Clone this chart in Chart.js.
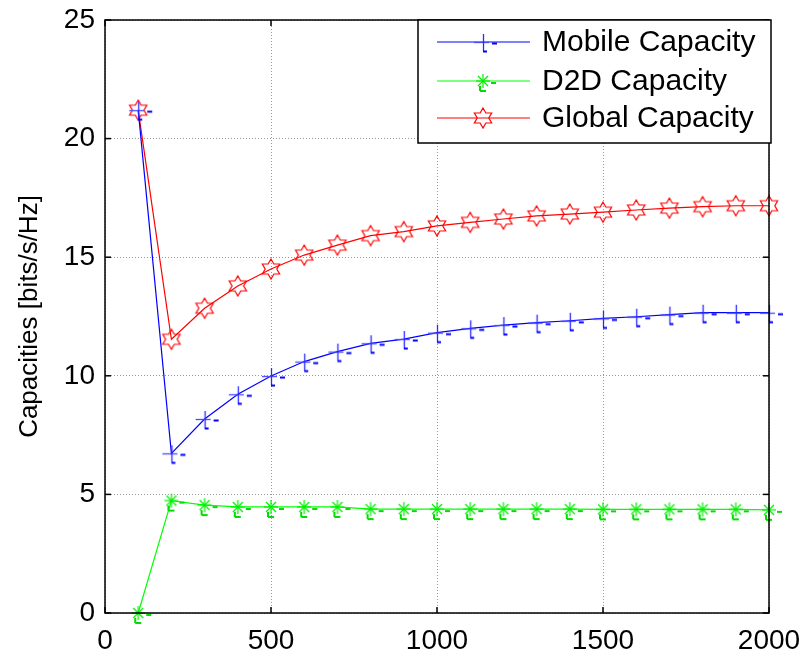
<!DOCTYPE html>
<html>
<head>
<meta charset="utf-8">
<script src="https://cdn.jsdelivr.net/npm/chart.js@4"></script>
<style>
html,body{margin:0;padding:0;background:#fff;}
#wrap{width:805px;height:655px;}
</style>
</head>
<body>
<div id="wrap"><canvas id="c" width="805" height="655"></canvas></div>
<script>
// ---- data ----
const xValues = [100,200,300,400,500,600,700,800,900,1000,1100,1200,1300,1400,1500,1600,1700,1800,1900,2000];
const mobileCapacity = [21.2,6.73,8.18,9.22,9.99,10.6,11.02,11.37,11.55,11.82,12.0,12.14,12.24,12.32,12.42,12.49,12.58,12.66,12.66,12.66];
const d2dCapacity = [0.0,4.74,4.55,4.47,4.47,4.47,4.47,4.38,4.38,4.38,4.38,4.38,4.38,4.38,4.37,4.37,4.37,4.37,4.37,4.35];
const globalCapacity = [21.2,11.54,12.85,13.79,14.5,15.09,15.51,15.91,16.08,16.32,16.47,16.61,16.74,16.82,16.9,16.99,17.07,17.13,17.17,17.17];
const seriesLabels = ['Mobile Capacity','D2D Capacity','Global Capacity'];
const xTicks = [0,500,1000,1500,2000];
const yTicks = [0,5,10,15,20,25];
const yTitle = 'Capacities [bits/s/Hz]';

const FONT = "'Liberation Sans', Arial, sans-serif";

// ---- marker images ----
function mk(drawFn){
  const c = document.createElement('canvas');
  c.width = 34; c.height = 34;
  const g = c.getContext('2d');
  g.translate(17,17);
  drawFn(g);
  return c;
}
function seg(g,x1,y1,x2,y2){ g.beginPath(); g.moveTo(x1,y1); g.lineTo(x2,y2); g.stroke(); }
const plusMarker = mk(g=>{
  g.lineWidth = 1.3;
  g.strokeStyle = '#4a4aff';
  seg(g,-9,0.5,6,0.5);
  g.strokeStyle = '#2a2aff';
  seg(g,0.5,-8,0.5,9);
  g.strokeStyle = '#0000ff';
  g.lineWidth = 2;
  seg(g,0,9.5,4,9.5);
  seg(g,9,1.5,14,1.5);
});
const starMarker = mk(g=>{
  g.strokeStyle = '#00ee00';
  g.lineWidth = 1.2;
  const r = 7;
  seg(g,-r,0,r,0);
  seg(g,0,-r,0,r);
  seg(g,-5,-5,5,5);
  seg(g,-5,5,5,-5);
  g.lineWidth = 2;
  g.strokeStyle = '#00dd00';
  seg(g,8,2,13,2);
  seg(g,-3,5,-3,10);
  seg(g,-3,10,3,10);
});
const hexMarker = mk(g=>{
  g.strokeStyle = '#ff0000';
  g.lineWidth = 1.2;
  const R = 10, r = R/Math.sqrt(3);
  g.beginPath();
  for(let i=0;i<12;i++){
    const ang = -Math.PI/2 + i*Math.PI/6;
    const rad = (i%2===0)?R:r;
    const px = rad*Math.cos(ang), py = rad*Math.sin(ang);
    if(i===0) g.moveTo(px,py); else g.lineTo(px,py);
  }
  g.closePath();
  g.stroke();
});

function toPts(ys){ return xValues.map((x,i)=>({x:x,y:ys[i]})); }

const datasets = [
  {label:seriesLabels[0], data:toPts(mobileCapacity), borderColor:'#0000ff', backgroundColor:'#0000ff', pointStyle:plusMarker},
  {label:seriesLabels[1], data:toPts(d2dCapacity), borderColor:'#00ff00', backgroundColor:'#00ff00', pointStyle:starMarker},
  {label:seriesLabels[2], data:toPts(globalCapacity), borderColor:'#ff0000', backgroundColor:'#ff0000', pointStyle:hexMarker}
].map(d=>Object.assign(d,{borderWidth:1.2, tension:0, fill:false, pointRadius:10, pointHoverRadius:10, clip:false}));

// ---- plugins ----
const framePlugin = {
  id:'frame',
  afterDatasetsDraw(chart){
    const {ctx, chartArea:a, scales} = chart;
    ctx.save();
    ctx.strokeStyle = '#000';
    ctx.lineWidth = 1.5;
    ctx.strokeRect(a.left, a.top, a.right-a.left, a.bottom-a.top);
    ctx.lineWidth = 1.5;
    const tl = 6;
    xTicks.forEach(v=>{
      const px = scales.x.getPixelForValue(v);
      seg(ctx,px,a.bottom,px,a.bottom-tl);
      seg(ctx,px,a.top,px,a.top+tl);
    });
    yTicks.forEach(v=>{
      const py = scales.y.getPixelForValue(v);
      seg(ctx,a.left,py,a.left+tl,py);
      seg(ctx,a.right,py,a.right-tl,py);
    });
    // legend
    const bw = 353, bh = 123;
    const bx = a.right - bw + 2, by = a.top;
    ctx.fillStyle = '#fff';
    ctx.fillRect(bx,by,bw,bh);
    ctx.strokeStyle = '#000';
    ctx.lineWidth = 1.5;
    ctx.strokeRect(bx,by,bw,bh);
    const rows = [22,61,98];
    chart.data.datasets.forEach((ds,i)=>{
      const y = by + rows[i];
      ctx.strokeStyle = ds.borderColor;
      ctx.lineWidth = 1.2;
      seg(ctx,bx+19,y,bx+112,y);
      const img = ds.pointStyle;
      ctx.drawImage(img, bx+65-img.width/2, y-img.height/2);
      ctx.fillStyle = '#000';
      ctx.font = '30px ' + FONT;
      ctx.textBaseline = 'middle';
      ctx.textAlign = 'left';
      ctx.fillText(ds.label, bx+124, y+1);
    });
    ctx.restore();
  }
};

new Chart(document.getElementById('c'), {
  type:'line',
  data:{datasets:datasets},
  options:{
    responsive:false,
    animation:false,
    devicePixelRatio:1,
    layout:{padding:{left:0, top:20, right:36, bottom:0}},
    plugins:{legend:{display:false}, tooltip:{enabled:false}},
    scales:{
      x:{
        type:'linear', min:0, max:2000,
        afterBuildTicks(s){ s.ticks = xTicks.map(v=>({value:v})); },
        afterFit(s){ s.height = 42; },
        grid:{color:'#9a9a9a', lineWidth:1, drawTicks:false},
        border:{display:false, dash:[1,2]},
        ticks:{color:'#000', font:{family:FONT, size:28, lineHeight:1.99}, padding:0, maxRotation:0, autoSkip:false,
               callback:(v)=>String(v)}
      },
      y:{
        type:'linear', min:0, max:25,
        afterBuildTicks(s){ s.ticks = yTicks.map(v=>({value:v})); },
        afterFit(s){ s.width = 105; },
        grid:{color:'#9a9a9a', lineWidth:1, drawTicks:false},
        border:{display:false, dash:[1,2]},
        ticks:{color:'#000', font:{family:FONT, size:28, lineHeight:0.3}, padding:10, autoSkip:false,
               callback:(v)=>String(v)},
        title:{display:true, text:yTitle, color:'#000', font:{family:FONT, size:26}, padding:{top:14, bottom:0}}
      }
    }
  },
  plugins:[framePlugin]
});
</script>
</body>
</html>
